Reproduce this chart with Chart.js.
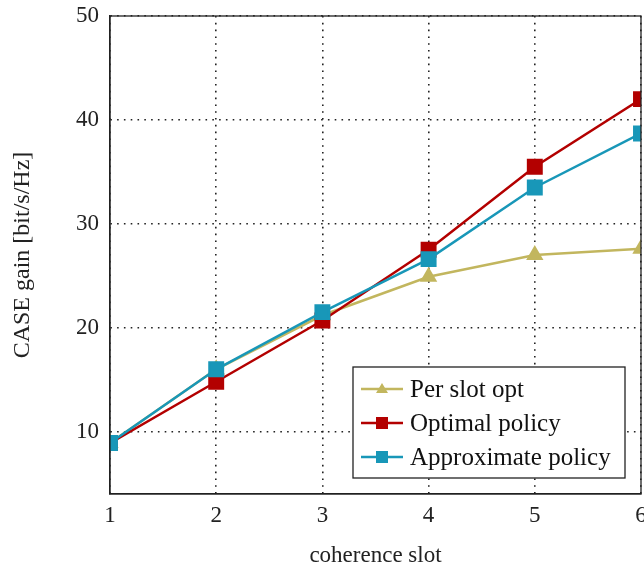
<!DOCTYPE html>
<html>
<head>
<meta charset="utf-8">
<script src="https://cdn.jsdelivr.net/npm/chart.js@4/dist/chart.umd.min.js"></script>
<style>
  html, body { margin: 0; padding: 0; background: #fff; }
  #wrap { width: 644px; height: 566px; }
</style>
</head>
<body>
<div id="wrap"><canvas id="chart" width="644" height="566"></canvas></div>
<script>
const slots = [1, 2, 3, 4, 5, 6];
const perSlotOpt = [8.9, 16.0, 21.2, 24.9, 27.0, 27.6];
const optimalPolicy = [8.9, 14.8, 20.7, 27.5, 35.5, 42.0];
const approxPolicy = [8.9, 16.0, 21.5, 26.6, 33.5, 38.7];
const yTicks = [10, 20, 30, 40, 50];

const serif = "'Liberation Serif', 'DejaVu Serif', serif";

// legend drawn inside the plot, like the pgfplots box
const boxLegend = {
  id: 'boxLegend',
  afterDatasetsDraw(chart) {
    const ctx = chart.ctx;
    const a = chart.chartArea;
    // frame top/right
    ctx.save();
    ctx.strokeStyle = '#222';
    ctx.lineWidth = 1.3;
    ctx.strokeRect(a.left, a.top, a.right - a.left, a.bottom - a.top);
    ctx.restore();

    const x0 = 353, y0 = 367, w = 272, h = 111;
    ctx.save();
    ctx.fillStyle = '#fff';
    ctx.fillRect(x0, y0, w, h);
    ctx.strokeStyle = '#222';
    ctx.lineWidth = 1.3;
    ctx.strokeRect(x0, y0, w, h);
    ctx.font = '25px ' + serif;
    ctx.textBaseline = 'middle';
    chart.data.datasets.forEach((ds, i) => {
      const cy = y0 + 22 + i * 34;
      ctx.strokeStyle = ds.borderColor;
      ctx.lineWidth = 2.5;
      ctx.beginPath();
      ctx.moveTo(x0 + 8, cy);
      ctx.lineTo(x0 + 50, cy);
      ctx.stroke();
      ctx.fillStyle = ds.backgroundColor;
      if (ds.pointStyle === 'triangle') {
        ctx.beginPath();
        ctx.moveTo(x0 + 29, cy - 6);
        ctx.lineTo(x0 + 35, cy + 4);
        ctx.lineTo(x0 + 23, cy + 4);
        ctx.closePath();
        ctx.fill();
      } else {
        ctx.fillRect(x0 + 23, cy - 6, 12, 12);
      }
      ctx.fillStyle = '#111';
      ctx.fillText(ds.label, x0 + 57, cy + 1);
    });
    ctx.restore();
  }
};

const dotted = {
  display: true,
  color: '#222',
  lineWidth: 1.6,
  drawTicks: false
};
const axisBorder = { display: true, color: '#222', width: 1.3, dash: [1.6, 5.2] };

new Chart(document.getElementById('chart'), {
  type: 'line',
  data: {
    labels: slots,
    datasets: [{
      label: 'Per slot opt',
      data: perSlotOpt,
      borderColor: '#c2b65e',
      backgroundColor: '#c2b65e',
      pointStyle: 'triangle',
      pointRadius: 7.5,
      borderWidth: 2.5,
      order: 2
    }, {
      label: 'Optimal policy',
      data: optimalPolicy,
      borderColor: '#b30000',
      backgroundColor: '#b30000',
      pointStyle: 'rect',
      pointRadius: 9.5,
      borderWidth: 2.5,
      order: 1
    }, {
      label: 'Approximate policy',
      data: approxPolicy,
      borderColor: '#1897b8',
      backgroundColor: '#1897b8',
      pointStyle: 'rect',
      pointRadius: 9.5,
      borderWidth: 2.5,
      order: 0
    }]
  },
  options: {
    responsive: false,
    animation: false,
    layout: { autoPadding: false, padding: { top: 16, right: 3, left: 0, bottom: 0 } },
    plugins: { legend: { display: false }, tooltip: { enabled: false } },
    elements: { line: { tension: 0, fill: false } },
    scales: {
      x: {
        type: 'linear',
        min: 1,
        max: 6,
        afterFit(scale) {
          scale.height = 72;
          scale.paddingLeft = 0;
          scale.paddingRight = 0;
        },
        afterBuildTicks(scale) { scale.ticks = slots.map(v => ({ value: v })); },
        grid: dotted,
        border: axisBorder,
        ticks: { padding: 8, color: '#222', font: { family: serif, size: 23 } },
        title: { display: true, text: 'coherence slot', color: '#222', padding: { top: 0, bottom: -4 }, font: { family: serif, size: 23 } }
      },
      y: {
        min: 4,
        max: 50,
        afterFit(scale) { scale.width = 110; scale.paddingTop = 0; scale.paddingBottom = 0; },
        afterBuildTicks(scale) { scale.ticks = yTicks.map(v => ({ value: v })); },
        grid: dotted,
        border: axisBorder,
        ticks: { padding: 11, color: '#222', font: { family: serif, size: 23 } },
        title: { display: true, text: 'CASE gain [bit/s/Hz]', color: '#222', padding: { top: 8 }, font: { family: serif, size: 24 } }
      }
    }
  },
  plugins: [boxLegend]
});
</script>
</body>
</html>
